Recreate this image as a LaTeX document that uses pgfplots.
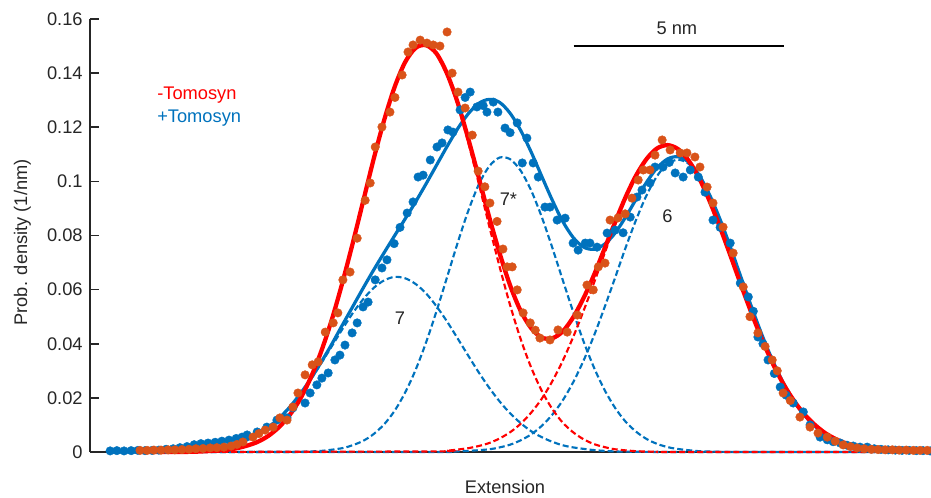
\documentclass[border=0pt]{standalone}
\usepackage{pgfplots}
\pgfplotsset{compat=1.18}
\usepackage{fontspec}
\setmainfont{Liberation Sans}

\definecolor{mblue}{RGB}{0,114,189}
\definecolor{morange}{RGB}{217,83,25}
\definecolor{axgray}{RGB}{38,38,38}
\newcommand{\lblfont}{\fontsize{13.7}{16}\selectfont}

\begin{document}
\begin{tikzpicture}
\begin{axis}[
  at={(0,0)}, anchor=south west,
  scale only axis, width=630.75pt, height=324.75pt,
  xmin=0, xmax=20.02, ymin=0, ymax=0.16,
  axis lines=left,
  axis line style={-, line width=1.3pt, axgray},
  xtick=\empty,
  ytick={0,0.02,0.04,0.06,0.08,0.1,0.12,0.14,0.16},
  yticklabels={0,0.02,0.04,0.06,0.08,0.1,0.12,0.14,0.16},
  scaled y ticks=false,
  tick align=inside,
  major tick length=7pt,
  tick style={axgray, line width=1.3pt},
  yticklabel style={font=\lblfont, text=axgray, xshift=-2pt},
  ylabel={Prob. density (1/nm)},
  ylabel style={at={(axis description cs:-0.0803,0.484)}, anchor=center, font=\lblfont, text=axgray},
  xlabel={Extension},
  xlabel style={at={(axis description cs:0.4935,-0.080)}, anchor=center, font=\lblfont, text=axgray},
  clip=false,
]

% +Tomosyn data
\addplot[only marks, mark=*, color=mblue, mark size=3.2pt, mark options={solid, line width=0.3pt, draw=mblue, fill=mblue}] table {
x y
0.48 0.0004
0.64 0.0005
0.81 0.0004
0.98 0.0005
1.14 0.0006
1.31 0.0005
1.48 0.0006
1.64 0.0007
1.81 0.0010
1.98 0.0012
2.14 0.0016
2.31 0.0020
2.48 0.0027
2.64 0.0031
2.81 0.0033
2.98 0.0036
3.14 0.0040
3.31 0.0044
3.48 0.0050
3.62 0.0055
3.74 0.0063
3.98 0.0074
4.21 0.0092
4.45 0.0118
4.69 0.0126
4.83 0.0163
5.12 0.0181
5.24 0.0218
5.40 0.0248
5.52 0.0273
5.67 0.0292
5.83 0.0340
5.95 0.0358
6.07 0.0395
6.24 0.0440
6.36 0.0477
6.50 0.0536
6.62 0.0554
6.79 0.0636
6.95 0.0680
7.07 0.0710
7.24 0.0770
7.38 0.0830
7.55 0.0883
7.69 0.0924
7.81 0.1016
7.93 0.1023
8.10 0.1079
8.26 0.1127
8.38 0.1142
8.52 0.1190
8.64 0.1182
8.81 0.1264
8.93 0.1310
9.05 0.1330
9.21 0.1275
9.36 0.1280
9.45 0.1256
9.60 0.1293
9.71 0.1256
9.88 0.1197
10.00 0.1180
10.17 0.1216
10.29 0.1068
10.40 0.1160
10.55 0.1068
10.67 0.1016
10.83 0.0905
10.95 0.0905
11.12 0.0857
11.31 0.0864
11.50 0.0772
11.62 0.0746
11.79 0.0772
11.90 0.0772
12.07 0.0757
12.31 0.0809
12.50 0.0820
12.69 0.0810
12.86 0.0868
13.02 0.0942
13.14 0.0968
13.33 0.0994
13.45 0.1053
13.64 0.1053
13.79 0.1070
13.93 0.1031
14.12 0.1016
14.29 0.1042
14.48 0.1016
14.64 0.0960
14.83 0.0857
15.00 0.0830
15.24 0.0772
15.48 0.0624
15.67 0.0573
15.79 0.0520
15.90 0.0425
16.02 0.0400
16.14 0.0340
16.29 0.0290
16.43 0.0240
16.57 0.0210
16.74 0.0181
16.98 0.0148
17.14 0.0100
17.38 0.0055
17.55 0.0045
17.69 0.0038
17.86 0.0033
18.02 0.0025
18.17 0.0022
18.33 0.0018
18.50 0.0018
18.67 0.0012
18.83 0.0010
19.00 0.0008
19.17 0.0007
19.33 0.0006
19.50 0.0006
19.67 0.0005
19.83 0.0005
20.00 0.0004
};

% -Tomosyn data
\addplot[only marks, mark=*, color=morange, mark size=3.2pt, mark options={solid, line width=0.3pt, draw=morange, fill=morange}] table {
x y
1.19 0.0006
1.36 0.0006
1.52 0.0007
1.69 0.0007
1.86 0.0008
2.02 0.0008
2.19 0.0009
2.36 0.0010
2.52 0.0012
2.69 0.0013
2.86 0.0015
3.02 0.0016
3.19 0.0018
3.36 0.0022
3.50 0.0028
3.64 0.0037
3.88 0.0055
4.02 0.0068
4.17 0.0081
4.36 0.0092
4.52 0.0126
4.69 0.0118
4.83 0.0166
4.95 0.0218
5.12 0.0285
5.29 0.0322
5.43 0.0333
5.60 0.0443
5.79 0.0477
5.90 0.0514
6.02 0.0636
6.19 0.0665
6.36 0.0790
6.55 0.0930
6.67 0.0994
6.79 0.1127
6.95 0.1201
7.14 0.1256
7.26 0.1310
7.43 0.1393
7.57 0.1478
7.69 0.1504
7.86 0.1522
8.02 0.1511
8.17 0.1504
8.33 0.1500
8.50 0.1552
8.62 0.1400
8.76 0.1330
8.93 0.1271
9.10 0.1171
9.24 0.1038
9.40 0.0980
9.52 0.0920
9.69 0.0852
9.83 0.0750
9.93 0.0684
10.05 0.0684
10.17 0.0599
10.31 0.0514
10.48 0.0477
10.60 0.0450
10.71 0.0421
10.95 0.0414
11.14 0.0451
11.36 0.0443
11.60 0.0506
11.83 0.0617
11.98 0.0599
12.10 0.0684
12.26 0.0698
12.38 0.0857
12.57 0.0865
12.74 0.0880
12.90 0.0938
13.05 0.1005
13.17 0.1042
13.33 0.1042
13.45 0.1097
13.62 0.1153
13.81 0.1116
14.05 0.1105
14.21 0.1105
14.40 0.1090
14.52 0.1053
14.69 0.0979
14.83 0.0920
15.07 0.0831
15.31 0.0735
15.55 0.0610
15.71 0.0500
15.90 0.0440
16.07 0.0390
16.24 0.0340
16.36 0.0300
16.50 0.0218
16.67 0.0190
16.90 0.0129
17.14 0.0092
17.33 0.0070
17.55 0.0055
17.74 0.0040
17.93 0.0026
18.10 0.0020
18.26 0.0015
18.43 0.0012
18.60 0.0010
18.76 0.0009
18.93 0.0008
19.10 0.0008
19.26 0.0007
19.43 0.0007
19.60 0.0006
19.76 0.0006
19.93 0.0006
};

% +Tomosyn components (7, 7*, 6)
\addplot[mblue, line width=1.6pt, dash pattern=on 4.5pt off 2.3pt, smooth] table {
x y
0.5 0.0000
2.0 0.0002
2.5 0.0005
3.0 0.0013
3.5 0.0031
4.0 0.0066
4.25 0.0092
4.5 0.0125
4.75 0.0165
5.0 0.0213
5.25 0.0267
5.5 0.0327
5.75 0.0389
6.0 0.0452
6.25 0.0512
6.5 0.0564
6.75 0.0606
7.0 0.0634
7.25 0.0647
7.5 0.0642
7.75 0.0621
8.0 0.0586
8.25 0.0538
8.5 0.0482
8.75 0.0420
9.0 0.0357
9.25 0.0295
9.5 0.0238
9.75 0.0187
10.0 0.0143
10.25 0.0107
10.5 0.0077
10.75 0.0055
11.0 0.0038
11.25 0.0025
11.5 0.0017
12.0 0.0007
12.5 0.0002
13.0 0.0001
14.0 0.0000
20.0 0.0000
};
\addplot[mblue, line width=1.6pt, dash pattern=on 4.5pt off 2.3pt, smooth] table {
x y
0.5 0.0000
4.5 0.0000
5.0 0.0001
5.5 0.0004
6.0 0.0014
6.25 0.0025
6.5 0.0041
6.75 0.0066
7.0 0.0102
7.25 0.0152
7.5 0.0219
7.75 0.0303
8.0 0.0405
8.25 0.0521
8.5 0.0646
8.75 0.0772
9.0 0.0889
9.25 0.0987
9.5 0.1055
9.75 0.1088
10.0 0.1082
10.25 0.1040
10.5 0.0967
10.75 0.0870
11.0 0.0757
11.25 0.0637
11.5 0.0519
11.75 0.0408
12.0 0.0311
12.25 0.0229
12.5 0.0163
12.75 0.0112
13.0 0.0075
13.25 0.0048
13.5 0.0030
13.75 0.0018
14.0 0.0011
14.5 0.0003
15.0 0.0001
15.5 0.0000
20.0 0.0000
};
\addplot[mblue, line width=1.6pt, dash pattern=on 4.5pt off 2.3pt, smooth] table {
x y
0.5 0.0000
8.0 0.0000
8.5 0.0001
9.0 0.0004
9.5 0.0010
9.75 0.0017
10.0 0.0027
10.25 0.0043
10.5 0.0065
10.75 0.0096
11.0 0.0137
11.25 0.0190
11.5 0.0257
11.75 0.0338
12.0 0.0431
12.25 0.0535
12.5 0.0644
12.75 0.0755
13.0 0.0858
13.25 0.0949
13.5 0.1020
13.75 0.1065
14.0 0.1080
14.25 0.1065
14.5 0.1020
14.75 0.0949
15.0 0.0858
15.25 0.0755
15.5 0.0644
15.75 0.0535
16.0 0.0431
16.25 0.0338
16.5 0.0257
16.75 0.0190
17.0 0.0137
17.25 0.0096
17.5 0.0065
17.75 0.0043
18.0 0.0027
18.25 0.0017
18.5 0.0010
19.0 0.0004
19.5 0.0001
20.0 0.0000
};

% -Tomosyn components
\addplot[red, line width=1.6pt, dash pattern=on 4.5pt off 2.3pt, smooth] table {
x y
1.2 0.0000
2.5 0.0001
3.0 0.0005
3.5 0.0014
4.0 0.0038
4.25 0.0060
4.5 0.0092
4.75 0.0136
5.0 0.0195
5.25 0.0273
5.5 0.0370
5.75 0.0486
6.0 0.0621
6.25 0.0769
6.5 0.0925
6.75 0.1081
7.0 0.1225
7.25 0.1348
7.5 0.1440
7.75 0.1493
8.0 0.1503
8.25 0.1469
8.5 0.1393
8.75 0.1283
9.0 0.1146
9.25 0.0995
9.5 0.0837
9.75 0.0685
10.0 0.0543
10.25 0.0418
10.5 0.0313
10.75 0.0227
11.0 0.0160
11.25 0.0109
11.5 0.0073
11.75 0.0047
12.0 0.0029
12.25 0.0018
12.5 0.0010
13.0 0.0003
13.5 0.0001
14.0 0.0000
20.0 0.0000
};
\addplot[red, line width=1.6pt, dash pattern=on 4.5pt off 2.3pt, smooth] table {
x y
1.2 0.0000
8.0 0.0002
8.5 0.0005
8.75 0.0009
9.0 0.0014
9.25 0.0022
9.5 0.0033
9.75 0.0050
10.0 0.0073
10.25 0.0104
10.5 0.0145
10.75 0.0196
11.0 0.0260
11.25 0.0336
11.5 0.0424
11.75 0.0522
12.0 0.0626
12.25 0.0734
12.5 0.0839
12.75 0.0936
13.0 0.1019
13.25 0.1082
13.5 0.1121
13.75 0.1134
14.0 0.1119
14.25 0.1077
14.5 0.1012
14.75 0.0927
15.0 0.0829
15.25 0.0724
15.5 0.0616
15.75 0.0512
16.0 0.0415
16.25 0.0328
16.5 0.0253
16.75 0.0191
17.0 0.0140
17.25 0.0101
17.5 0.0070
17.75 0.0048
18.0 0.0032
18.25 0.0021
18.5 0.0013
18.75 0.0008
19.0 0.0005
19.5 0.0002
20.0 0.0000
};

% +Tomosyn fit
\addplot[mblue, line width=2.4pt, smooth] table {
x y
0.5 0.0000
1.0 0.0000
1.5 0.0001
2.0 0.0002
2.5 0.0005
3.0 0.0013
3.25 0.0021
3.5 0.0031
3.75 0.0046
4.0 0.0066
4.25 0.0092
4.5 0.0125
4.75 0.0165
5.0 0.0214
5.25 0.0269
5.5 0.0331
5.75 0.0397
6.0 0.0467
6.25 0.0536
6.5 0.0605
6.75 0.0672
7.0 0.0736
7.25 0.0799
7.5 0.0861
7.75 0.0924
8.0 0.0991
8.25 0.1060
8.5 0.1129
8.75 0.1194
9.0 0.1249
9.25 0.1288
9.5 0.1303
9.75 0.1292
10.0 0.1252
10.25 0.1189
10.5 0.1109
10.75 0.1020
11.0 0.0932
11.25 0.0853
11.5 0.0793
11.75 0.0757
12.0 0.0749
12.25 0.0768
12.5 0.0809
12.75 0.0868
13.0 0.0934
13.25 0.0997
13.5 0.1050
13.75 0.1083
14.0 0.1091
14.25 0.1071
14.5 0.1023
14.75 0.0950
15.0 0.0859
15.25 0.0755
15.5 0.0644
15.75 0.0535
16.0 0.0431
16.25 0.0338
16.5 0.0257
16.75 0.0190
17.0 0.0137
17.25 0.0096
17.5 0.0065
17.75 0.0043
18.0 0.0027
18.25 0.0017
18.5 0.0010
19.0 0.0004
19.5 0.0001
20.0 0.0000
};

% -Tomosyn fit
\addplot[red, line width=3.2pt, smooth] table {
x y
1.2 0.0000
1.5 0.0000
2.0 0.0000
2.5 0.0001
3.0 0.0005
3.25 0.0008
3.5 0.0014
3.75 0.0024
4.0 0.0038
4.25 0.0060
4.5 0.0092
4.75 0.0136
5.0 0.0195
5.25 0.0273
5.5 0.0370
5.75 0.0486
6.0 0.0621
6.25 0.0769
6.5 0.0925
6.75 0.1081
7.0 0.1225
7.25 0.1348
7.5 0.1440
7.75 0.1493
8.0 0.1503
8.25 0.1472
8.5 0.1398
8.75 0.1292
9.0 0.1160
9.25 0.1017
9.5 0.0870
9.75 0.0735
10.0 0.0616
10.25 0.0522
10.5 0.0458
10.75 0.0423
11.0 0.0420
11.25 0.0445
11.5 0.0497
11.75 0.0569
12.0 0.0655
12.25 0.0752
12.5 0.0849
12.75 0.0942
13.0 0.1022
13.25 0.1083
13.5 0.1122
13.75 0.1134
14.0 0.1119
14.25 0.1077
14.5 0.1012
14.75 0.0927
15.0 0.0829
15.25 0.0724
15.5 0.0616
15.75 0.0512
16.0 0.0415
16.25 0.0328
16.5 0.0253
16.75 0.0191
17.0 0.0140
17.25 0.0101
17.5 0.0070
17.75 0.0048
18.0 0.0032
18.25 0.0021
18.5 0.0013
18.75 0.0008
19.0 0.0005
19.5 0.0002
20.0 0.0000
};

% labels and scale bar
\node[anchor=west, inner sep=0pt, font=\lblfont, text=red] at (axis cs:1.595,0.1319) {-Tomosyn};
\node[anchor=west, inner sep=0pt, font=\lblfont, text=mblue] at (axis cs:1.595,0.1234) {+Tomosyn};
\node[inner sep=0pt, font=\lblfont, text=axgray] at (axis cs:7.381,0.0495) {7};
\node[inner sep=0pt, font=\lblfont, text=axgray] at (axis cs:9.96,0.0935) {7*};
\node[inner sep=0pt, font=\lblfont, text=axgray] at (axis cs:13.745,0.0873) {6};
\draw[black, line width=1.5pt] (axis cs:11.51,0.150) -- (axis cs:16.52,0.150);
\node[inner sep=0pt, font=\lblfont, text=axgray] at (axis cs:13.97,0.1566) {5 nm};
\end{axis}
\pgfresetboundingbox
\useasboundingbox (-67.5pt,-34.5pt) rectangle (630.75pt,339pt);
\end{tikzpicture}
\end{document}
